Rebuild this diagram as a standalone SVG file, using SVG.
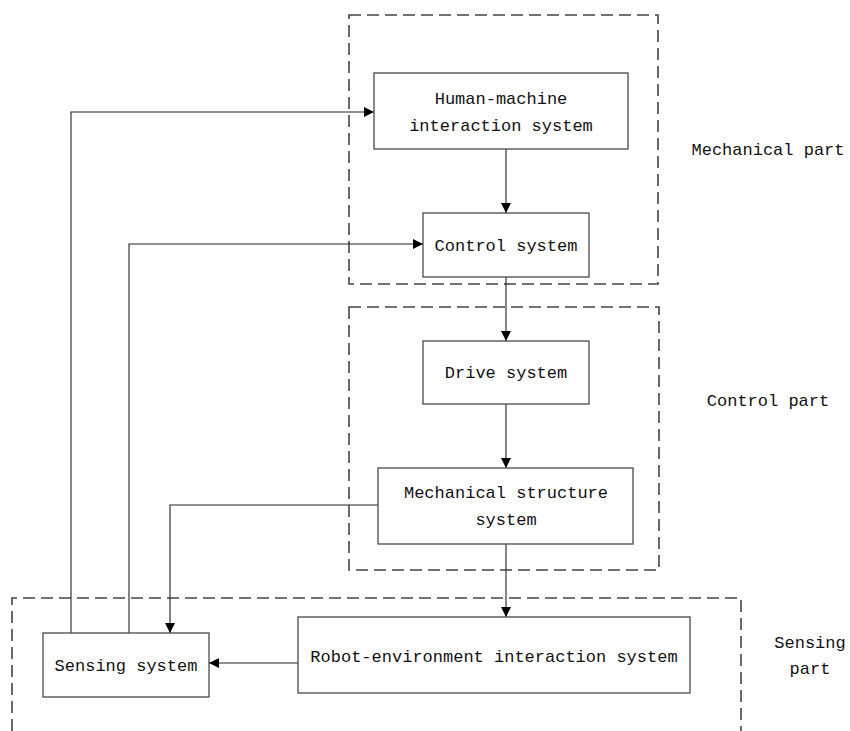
<svg xmlns="http://www.w3.org/2000/svg" width="850" height="731" viewBox="0 0 850 731">
<style>
.box{fill:#fff;stroke:#4a4a4a;stroke-width:1.3}
.grp{fill:none;stroke:#444;stroke-width:1.6;stroke-dasharray:12 6}
.t{font-family:"Liberation Mono","DejaVu Sans Mono",monospace;font-size:17px;fill:#111;text-anchor:middle}
.c{fill:none;stroke:#222;stroke-width:1.1}
</style>
<defs>
<marker id="ah" viewBox="0 0 10 10" refX="10" refY="5" markerWidth="10" markerHeight="10" markerUnits="userSpaceOnUse" orient="auto">
<path d="M0,0 L10,5 L0,10 z" fill="#000"/>
</marker>
</defs>
<rect x="0" y="0" width="850" height="731" fill="#fff"/>
<g id="groups">
<rect class="grp" x="349" y="15" width="309" height="269"/>
<rect class="grp" x="349" y="307" width="310" height="263"/>
<path class="grp" d="M12,731 L12,598 L741,598 L741,731"/>
<text class="t" x="768" y="155">Mechanical part</text>
<text class="t" x="768" y="406">Control part</text>
<text class="t" x="810" y="648">Sensing</text>
<text class="t" x="810" y="674">part</text>
</g>
<g id="connectors">
<line class="c" x1="506" y1="149" x2="506" y2="213" marker-end="url(#ah)"/>
<line class="c" x1="506" y1="277" x2="506" y2="341" marker-end="url(#ah)"/>
<line class="c" x1="506" y1="404" x2="506" y2="468" marker-end="url(#ah)"/>
<line class="c" x1="506" y1="544" x2="506" y2="617" marker-end="url(#ah)"/>
<line class="c" x1="298" y1="663" x2="209" y2="663" marker-end="url(#ah)"/>
<polyline class="c" points="378,505 170,505 170,633" marker-end="url(#ah)"/>
<polyline class="c" points="71,633 71,112 374,112" marker-end="url(#ah)"/>
<polyline class="c" points="129,633 129,244 423,244" marker-end="url(#ah)"/>
</g>
<g id="hmi">
<rect class="box" x="374" y="73" width="254" height="76"/>
<text class="t" x="501" y="104">Human-machine</text>
<text class="t" x="501" y="131">interaction system</text>
</g>
<g id="control">
<rect class="box" x="423" y="213" width="166" height="64"/>
<text class="t" x="506" y="251">Control system</text>
</g>
<g id="drive">
<rect class="box" x="423" y="341" width="166" height="63"/>
<text class="t" x="506" y="378">Drive system</text>
</g>
<g id="mech">
<rect class="box" x="378" y="468" width="255" height="76"/>
<text class="t" x="506" y="498">Mechanical structure</text>
<text class="t" x="506" y="525">system</text>
</g>
<g id="robot">
<rect class="box" x="298" y="617" width="392" height="76"/>
<text class="t" x="494" y="662">Robot-environment interaction system</text>
</g>
<g id="sensing">
<rect class="box" x="43" y="633" width="166" height="64"/>
<text class="t" x="126" y="671">Sensing system</text>
</g>
</svg>
